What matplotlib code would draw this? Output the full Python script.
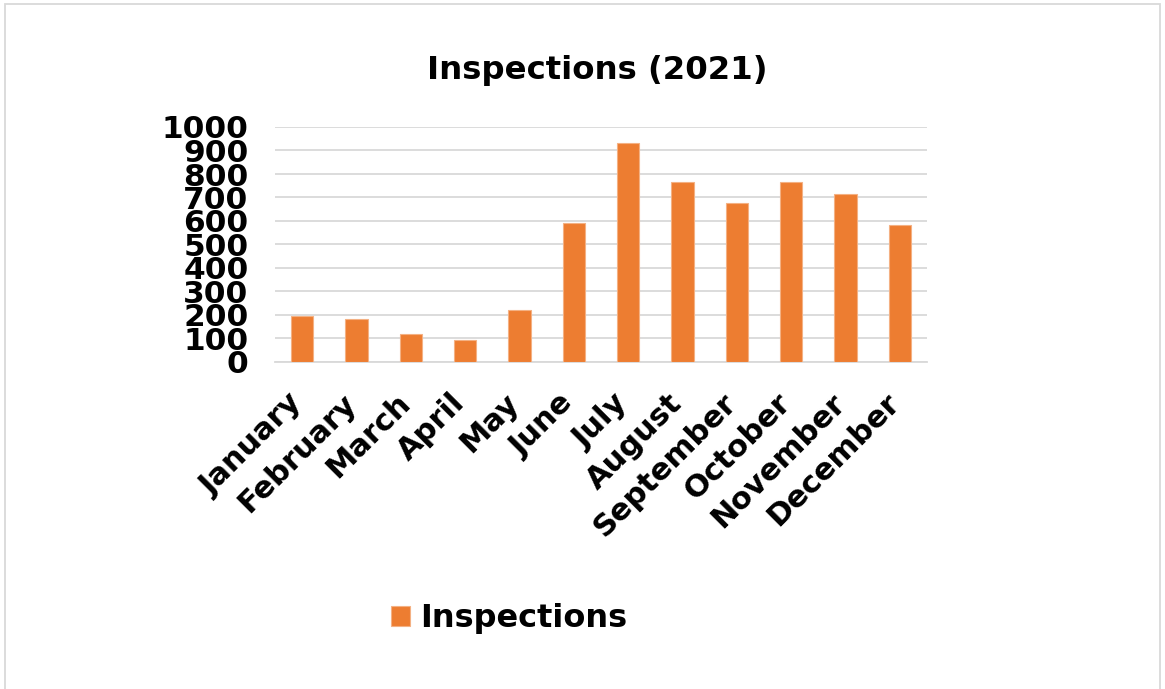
import matplotlib
matplotlib.use("Agg")
import matplotlib.pyplot as plt
from matplotlib.patches import Rectangle
from matplotlib.transforms import ScaledTranslation

months = ["January", "February", "March", "April", "May", "June", "July",
          "August", "September", "October", "November", "December"]
inspections = [195, 182, 119, 92, 221, 590, 932, 764, 675, 765, 713, 584]
yticks = [0, 100, 200, 300, 400, 500, 600, 700, 800, 900, 1000]

W, H = 1165, 689
fig = plt.figure(figsize=(W / 100, H / 100), dpi=100)
fig.patch.set_facecolor("white")
ax = fig.add_axes([275 / W, 1 - 362 / H, (927 - 275) / W, (362 - 127) / H])

orange = "#ED7D31"
x = list(range(len(months)))
ax.bar(x, inspections, width=0.405, color=orange, edgecolor="#F4B183", linewidth=0.8,
       label="Inspections", zorder=3)
ax.set_xlim(-0.5, len(months) - 0.5)
ax.set_ylim(0, 1000)
ax.set_yticks(yticks)
ax.set_yticklabels([str(v) for v in yticks], fontsize=22.5, fontweight="bold",
                   family="DejaVu Sans")
ax.yaxis.grid(True, color="#D9D9D9", linewidth=1.3, zorder=0)
ax.set_axisbelow(True)
for s in ["top", "right", "left"]:
    ax.spines[s].set_visible(False)
ax.spines["bottom"].set_color("#D9D9D9")
ax.spines["bottom"].set_linewidth(1.3)
ax.tick_params(axis="y", length=0, pad=19)
ax.tick_params(axis="x", length=0, pad=19)
ax.set_xticks(x)
ax.set_xticklabels(months, rotation=45, ha="right", va="top", rotation_mode="anchor",
                   fontsize=22, fontweight="bold", family="DejaVu Sans")
offset = ScaledTranslation(-15 / 100, 0, fig.dpi_scale_trans)
for lbl in ax.get_xticklabels():
    lbl.set_transform(lbl.get_transform() + offset)

fig.text(597 / W, 1 - 70 / H, "Inspections (2021)", ha="center", va="center",
         fontsize=23.3, fontweight="bold", family="DejaVu Sans")

fig.legend(loc="center", bbox_to_anchor=(509 / W, 1 - 619 / H), frameon=False,
           prop={"size": 23, "weight": "bold", "family": "DejaVu Sans"},
           handlelength=0.6, handleheight=0.6, handletextpad=0.3)

fig.add_artist(Rectangle((5 / W, -0.05), (1160 - 5) / W, (1 - 4 / H) + 0.05,
                         transform=fig.transFigure, fill=False,
                         edgecolor="#D9D9D9", linewidth=1.3))

fig.savefig("out.png", dpi=100)
